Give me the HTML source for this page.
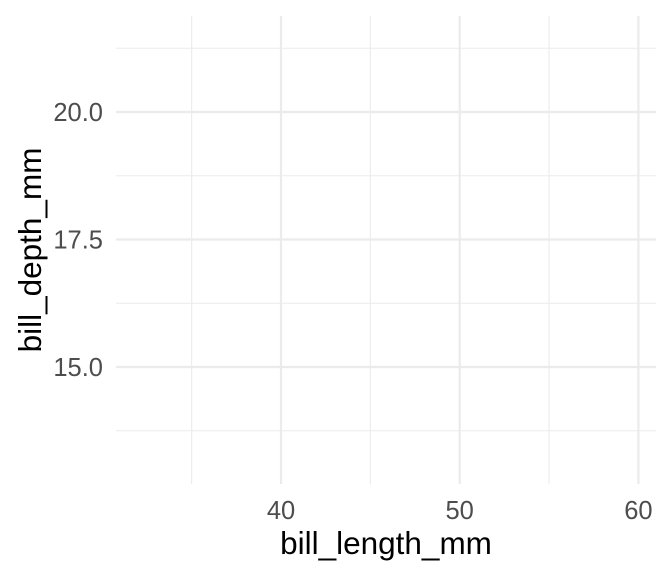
<!DOCTYPE html>
<html><head><meta charset="utf-8"><style>
html,body{margin:0;padding:0;background:#fff;}
svg{display:block;font-family:"Liberation Sans",Arial,sans-serif;}
</style></head><body>
<svg id="chart" width="672" height="576">
  <g id="grid"></g>
  <g id="labels"></g>
  <text x="386" y="554" font-size="31.5" text-anchor="middle" fill="#000">bill_length_mm</text>
  <text transform="translate(41,250) rotate(-90)" font-size="31.5" text-anchor="middle" fill="#000">bill_depth_mm</text>
</svg>
<script>
const xMajor = [40, 50, 60];
const xMinor = [35, 45, 55];
const yMajor = [15.0, 17.5, 20.0];
const yMinor = [13.75, 16.25, 18.75, 21.25];
const xTickLabels = ["40", "50", "60"];
const yTickLabels = ["15.0", "17.5", "20.0"];

const panel = {left:116, right:656, top:16, bottom:484};
function xScale(v){ return 281 + (v - 40) * 17.87; }
function yScale(v){ return 112 + (20 - v) * 51.0; }

const NS = "http://www.w3.org/2000/svg";
const grid = document.getElementById('grid');
const labels = document.getElementById('labels');
function line(x1,y1,x2,y2,w,name){
  const l = document.createElementNS(NS,'line');
  l.setAttribute('x1',x1); l.setAttribute('y1',y1);
  l.setAttribute('x2',x2); l.setAttribute('y2',y2);
  l.setAttribute('stroke','#ebebeb'); l.setAttribute('stroke-width',w);
  
  
  grid.appendChild(l);
}
yMinor.forEach(v => line(panel.left, yScale(v), panel.right, yScale(v), 1.1, 'y-minor-gridline'));
xMinor.forEach(v => line(xScale(v), panel.top, xScale(v), panel.bottom, 1.1, 'x-minor-gridline'));
yMajor.forEach(v => line(panel.left, yScale(v), panel.right, yScale(v), 2.2, 'y-major-gridline'));
xMajor.forEach(v => line(xScale(v), panel.top, xScale(v), panel.bottom, 2.2, 'x-major-gridline'));

function text(x,y,s,anchor,name){
  const t = document.createElementNS(NS,'text');
  t.setAttribute('x',x); t.setAttribute('y',y);
  t.setAttribute('font-size','25.5'); t.setAttribute('fill','#4d4d4d');
  t.setAttribute('text-anchor',anchor);
  t.textContent = s;
  
  
  labels.appendChild(t);
}
xMajor.forEach((v,i) => text(xScale(v), 519, xTickLabels[i], 'middle', 'x-tick-label'));
yMajor.forEach((v,i) => text(103, yScale(v)+9, yTickLabels[i], 'end', 'y-tick-label'));
</script>
</body></html>
